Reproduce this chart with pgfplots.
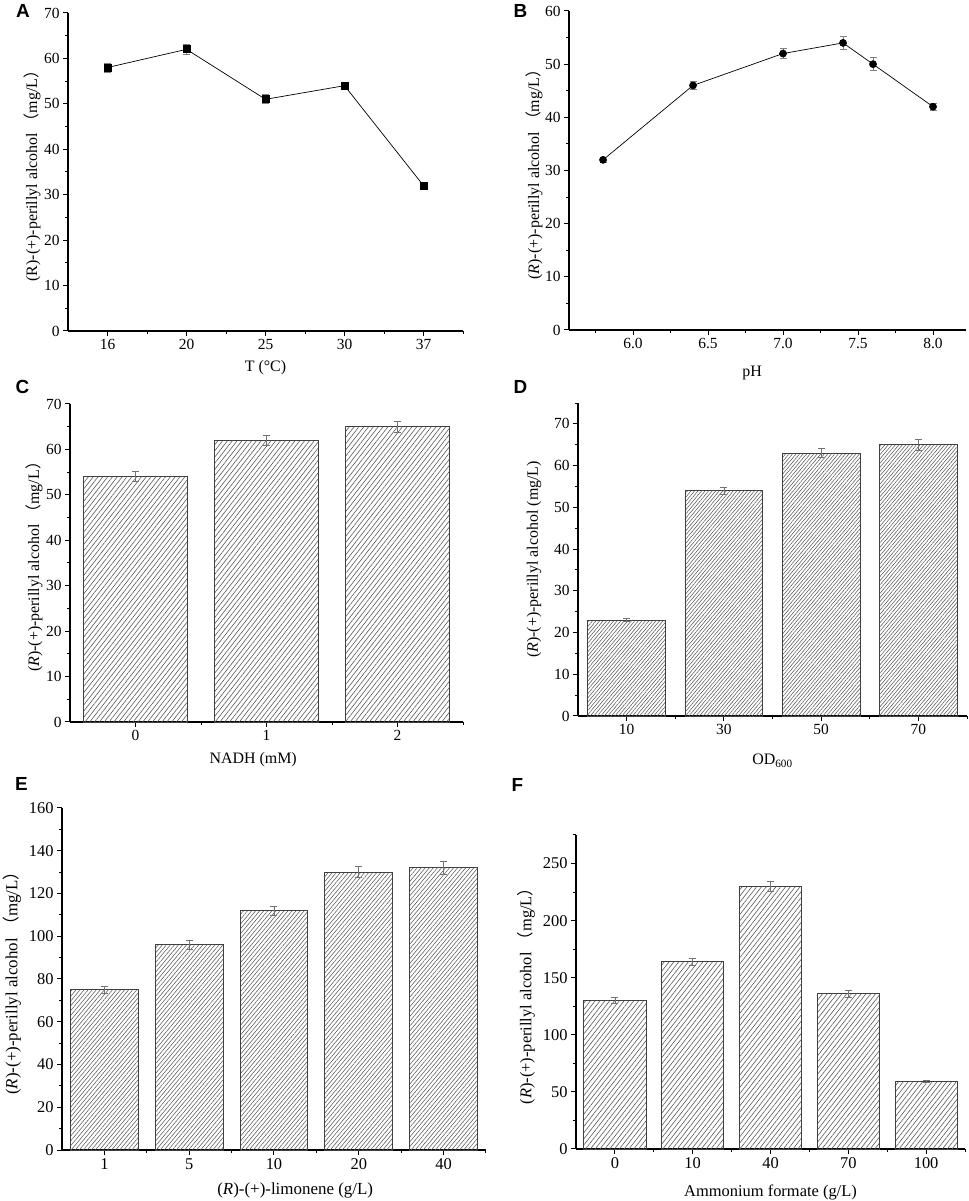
\documentclass[border=0pt]{standalone}
\usepackage{pgfplots}
\pgfplotsset{compat=1.18}
\usepackage{fontspec}
\setmainfont{Liberation Serif}
\newfontfamily\cjk{Noto Sans CJK SC}
\newfontfamily\letterfont{Liberation Sans}
\usetikzlibrary{patterns.meta}

\newcommand\lblfont{\fontsize{16}{19}\selectfont}
\pgfplotsset{
  panel/.style={
    scale only axis,
    anchor=south west,
    axis x line*=bottom,
    axis y line*=left,
    axis line style={line width=1.1bp, black},
    tick align=outside,
    major tick length=5bp,
    minor tick length=3bp,
    tick style={black, line width=1bp},
    ymin=0,
    /pgf/number format/assume math mode=true,
    tick label style={font=\fontsize{15.5}{18}\selectfont},
    every axis y label/.style={rotate=90, anchor=center, font=\lblfont},
    every axis x label/.style={anchor=center, font=\lblfont},
    clip=false,
  },
  hatch/.style={
    draw=black!75, line width=0.9bp,
    pattern={Lines[angle=50,distance=3.4bp,line width=0.6bp]},
    pattern color=black!65,
    error bars/y dir=both, error bars/y explicit,
    error bars/error bar style={black!55, line width=0.7bp},
    error bars/error mark options={black!55, rotate=90, mark size=3.5bp, line width=0.7bp},
  },
  ptline/.style={
    black, line width=0.7bp, mark size=3.5bp,
    error bars/y dir=both, error bars/y explicit,
    error bars/error bar style={black!50, line width=0.7bp},
    error bars/error mark options={black!50, rotate=90, mark size=3.5bp, line width=0.7bp},
  },
}

\pgfplotstableread{
x y e
0 58 1.0
1 62 1.0
2 51 1.0
3 54 0.8
4 32 0.5
}\dataA
\pgfplotstableread{
x y e
5.8 32 0.5
6.4 46 0.8
7.0 52 1.0
7.4 54 1.2
7.6 50 1.2
8.0 42 0.6
}\dataB
\pgfplotstableread{
x y e
0 54 1.1
1 62 1.2
2 65 1.2
}\dataC
\pgfplotstableread{
x y e
0 23 0.4
1 54 0.8
2 63 1.1
3 65 1.3
}\dataD
\pgfplotstableread{
x y e
0 75 1.5
1 96 2.0
2 112 2.0
3 130 2.5
4 132 3.0
}\dataE
\pgfplotstableread{
x y e
0 130 2.5
1 164 3.0
2 230 4.0
3 136 3.0
4 59 1.0
}\dataF

\begin{document}
\begin{tikzpicture}
\path[use as bounding box] (0bp,0bp) rectangle (969bp,1201bp);

% Panel A
\begin{axis}[panel, at={(68bp,870bp)}, width=395bp, height=318bp,
  xmin=-0.5, xmax=4.5, ymax=70,
  xtick={0,1,2,3,4}, xticklabels={16,20,25,30,37},
  minor xtick={0.5,1.5,2.5,3.5,4.5},
  ytick={0,10,...,70}, minor ytick={5,15,...,65},
  xlabel={T (°C)}, xlabel style={at={(axis description cs:0.5,-0.1164)}},
  ylabel={(R)-(+)-perillyl alcohol {\cjk （}mg/L{\cjk ）}},
  ylabel style={at={(axis description cs:-0.0911,0.5)}},
]
\addplot[ptline, mark=square*] table[x=x,y=y,y error=e] {\dataA};
\end{axis}

% Panel B
\begin{axis}[panel, at={(569bp,871bp)}, width=397bp, height=319bp,
  xmin=5.573, xmax=8.22, ymax=60,
  xtick={6.0,6.5,...,8.0}, minor xtick={5.75,6.25,...,8.0},
  xticklabel style={/pgf/number format/.cd, fixed, fixed zerofill, precision=1},
  ytick={0,10,...,60}, minor ytick={5,15,...,55},
  xlabel={pH}, xlabel style={at={(axis description cs:0.461,-0.1348)}},
  ylabel={(\textit{R})-(+)-perillyl alcohol {\cjk （}mg/L{\cjk ）}},
  ylabel style={at={(axis description cs:-0.0882,0.5)}},
]
\addplot[ptline, mark=*] table[x=x,y=y,y error=e] {\dataB};
\end{axis}

% Panel C
\begin{axis}[panel, ybar, bar width=0.8, at={(70bp,479bp)}, width=393bp, height=318bp,
  xmin=-0.5, xmax=2.5, ymax=70,
  xtick={0,1,2}, xticklabels={0,1,2},
  minor xtick={0.5,1.5,2.5},
  ytick={0,10,...,70}, minor ytick={5,15,...,65},
  xlabel={NADH (mM)}, xlabel style={at={(axis description cs:0.466,-0.1195)}},
  ylabel={(\textit{R})-(+)-perillyl alcohol {\cjk （}mg/L{\cjk ）}},
  ylabel style={at={(axis description cs:-0.0916,0.5)}},
]
\addplot[hatch, pattern={Lines[angle=52,distance=3.8bp,line width=0.6bp]}] table[x=x,y=y,y error=e] {\dataC};
\end{axis}

% Panel D
\begin{axis}[panel, ybar, bar width=0.8, at={(578bp,485bp)}, width=389bp, height=313bp,
  xmin=-0.5, xmax=3.5, ymax=75,
  xtick={0,1,2,3}, xticklabels={10,30,50,70},
  minor xtick={0.5,1.5,2.5,3.5},
  ytick={0,10,...,70}, minor ytick={5,15,...,75},
  xlabel={OD\textsubscript{600}}, xlabel style={at={(axis description cs:0.5,-0.1438)}},
  ylabel={(\textit{R})-(+)-perillyl alcohol (mg/L)},
  ylabel style={at={(axis description cs:-0.1131,0.5)}},
]
\addplot[hatch, pattern={Lines[angle=50,distance=2.7bp,line width=0.55bp]}] table[x=x,y=y,y error=e] {\dataD};
\end{axis}

% Panel E
\begin{axis}[panel, ybar, bar width=0.8, at={(62bp,51bp)}, width=424bp, height=342bp,
  xmin=-0.5, xmax=4.5, ymax=160,
  tick label style={font=\fontsize{16.5}{19}\selectfont},
  xtick={0,1,2,3,4}, xticklabels={1,5,10,20,40},
  minor xtick={0.5,1.5,2.5,3.5,4.5},
  ytick={0,20,...,160}, minor ytick={10,30,...,150},
  xlabel={(\textit{R})-(+)-limonene (g/L)}, xlabel style={at={(axis description cs:0.55,-0.117)}, font=\fontsize{17}{20}\selectfont},
  ylabel={(\textit{R})-(+)-perillyl alcohol {\cjk （}mg/L{\cjk ）}},
  ylabel style={at={(axis description cs:-0.1179,0.5)}, font=\fontsize{17}{20}\selectfont},
]
\addplot[hatch, pattern={Lines[angle=50,distance=3.1bp,line width=0.55bp]}] table[x=x,y=y,y error=e] {\dataE};
\end{axis}

% Panel F
\begin{axis}[panel, ybar, bar width=0.8, at={(576bp,52bp)}, width=389bp, height=314bp,
  xmin=-0.5, xmax=4.5, ymax=275,
  tick label style={font=\fontsize{16.5}{19}\selectfont},
  xtick={0,1,2,3,4}, xticklabels={0,10,40,70,100},
  minor xtick={0.5,1.5,2.5,3.5,4.5},
  ytick={0,50,...,250}, minor ytick={25,75,...,275},
  xlabel={Ammonium formate (g/L)}, xlabel style={at={(axis description cs:0.5,-0.137)}, font=\fontsize{16.5}{20}\selectfont},
  ylabel={(\textit{R})-(+)-perillyl alcohol {\cjk （}mg/L{\cjk ）}},
  ylabel style={at={(axis description cs:-0.1285,0.5)}, font=\fontsize{16.5}{20}\selectfont},
]
\addplot[hatch, pattern={Lines[angle=52,distance=3.8bp,line width=0.6bp]}] table[x=x,y=y,y error=e] {\dataF};
\end{axis}

% Panel letters
\foreach \L/\px/\py in {A/23/1189.5, B/520.5/1189.5, C/22.5/814.5, D/520.5/814.5, E/21.5/417.5, F/517.5/416.5}{
  \node[font=\letterfont\bfseries\fontsize{19}{22}\selectfont] at (\px bp,\py bp) {\L};
}
\end{tikzpicture}
\end{document}
